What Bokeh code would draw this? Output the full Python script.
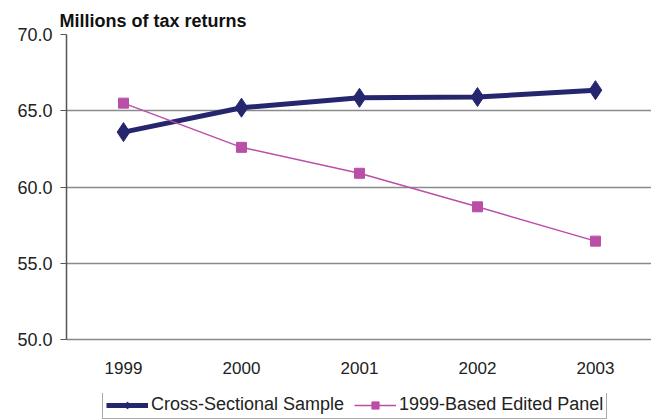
from bokeh.plotting import figure
from bokeh.layouts import column
from bokeh.models import Legend, LegendItem, Range1d, FixedTicker, NumeralTickFormatter
from bokeh.embed import file_html
from bokeh.resources import INLINE

years = [1999, 2000, 2001, 2002, 2003]
cross_sectional = [63.6, 65.2, 65.85, 65.9, 66.35]
edited_panel = [65.5, 62.6, 60.9, 58.7, 56.45]
y_ticks = [50, 55, 60, 65, 70]
title_text = "Millions of tax returns"
series_names = ["Cross-Sectional Sample", "1999-Based Edited Panel"]

NAVY = "#26266f"
PINK = "#b94fa7"
FONT = "Liberation Sans"

p = figure(width=651, height=393, output_backend="svg", toolbar_location=None,
           x_range=Range1d(1998.517, 2003.475), y_range=Range1d(50, 70),
           min_border_left=66, min_border_right=0, min_border_top=34, min_border_bottom=54,
           title=title_text)
p.outline_line_color = None
p.background_fill_color = "white"

p.title.text_font = FONT
p.title.text_font_size = "18px"
p.title.text_font_style = "bold"
p.title.align = "left"
p.title.offset = -7
p.title.standoff = 7
p.title.text_color = "#111111"

p.yaxis.ticker = FixedTicker(ticks=y_ticks)
p.yaxis.formatter = NumeralTickFormatter(format="0.0")
p.yaxis.major_label_text_font = FONT
p.yaxis.major_label_text_font_size = "18px"
p.yaxis.major_label_text_color = "#222222"
p.yaxis.axis_line_color = "#555555"
p.yaxis.axis_line_width = 1.5
p.yaxis.major_tick_line_color = "#555555"
p.yaxis.major_tick_out = 6
p.yaxis.major_tick_in = 0
p.yaxis.minor_tick_line_color = None
p.yaxis.major_label_standoff = 8

p.xaxis.ticker = FixedTicker(ticks=years)
p.xaxis.major_label_text_font = FONT
p.xaxis.major_label_text_font_size = "17px"
p.xaxis.major_label_text_color = "#222222"
p.xaxis.axis_line_color = "#888888"
p.xaxis.axis_line_width = 1.5
p.xaxis.major_tick_line_color = None
p.xaxis.minor_tick_line_color = None
p.xaxis.major_label_standoff = 16

p.xgrid.grid_line_color = None
p.ygrid.grid_line_color = "#8a8a8a"
p.ygrid.grid_line_width = 1.5
p.ygrid.ticker = FixedTicker(ticks=y_ticks)

p.line(years, cross_sectional, line_color=NAVY, line_width=5)
p.scatter(years, cross_sectional, marker="diamond", size=19, fill_color=NAVY, line_color=NAVY)
p.line(years, edited_panel, line_color=PINK, line_width=1.5)
p.scatter(years, edited_panel, marker="square", size=10, fill_color=PINK, line_color=PINK)

# legend strip below the chart (its sample renderers lie outside its ranges)
lg = figure(width=651, height=26, output_backend="svg", toolbar_location=None,
            x_range=Range1d(0, 1), y_range=Range1d(0, 1),
            min_border_left=0, min_border_right=0, min_border_top=0, min_border_bottom=0)
lg.axis.visible = False
lg.grid.visible = False
lg.outline_line_color = None
l1 = lg.line(years, cross_sectional, line_color=NAVY, line_width=5)
m1 = lg.scatter(years, cross_sectional, marker="diamond", size=14, fill_color=NAVY, line_color=NAVY)
l2 = lg.line(years, edited_panel, line_color=PINK, line_width=1.5)
m2 = lg.scatter(years, edited_panel, marker="square", size=9, fill_color=PINK, line_color=PINK)

legend = Legend(items=[LegendItem(label=series_names[0], renderers=[l1, m1]),
                       LegendItem(label=series_names[1], renderers=[l2, m2])],
                orientation="horizontal", location=(36, 0))
legend.label_text_font = FONT
legend.label_text_font_size = "18px"
legend.label_text_color = "#222222"
legend.label_height = 18
legend.glyph_width = 42
legend.glyph_height = 18
legend.label_standoff = 3
legend.spacing = 10
legend.padding = 3
legend.margin = 0
legend.border_line_color = "#555555"
legend.border_line_width = 1
legend.background_fill_color = "white"
lg.add_layout(legend, "center")

layout = column(p, lg, spacing=0)
open("out.html", "w").write(file_html(layout, INLINE))
